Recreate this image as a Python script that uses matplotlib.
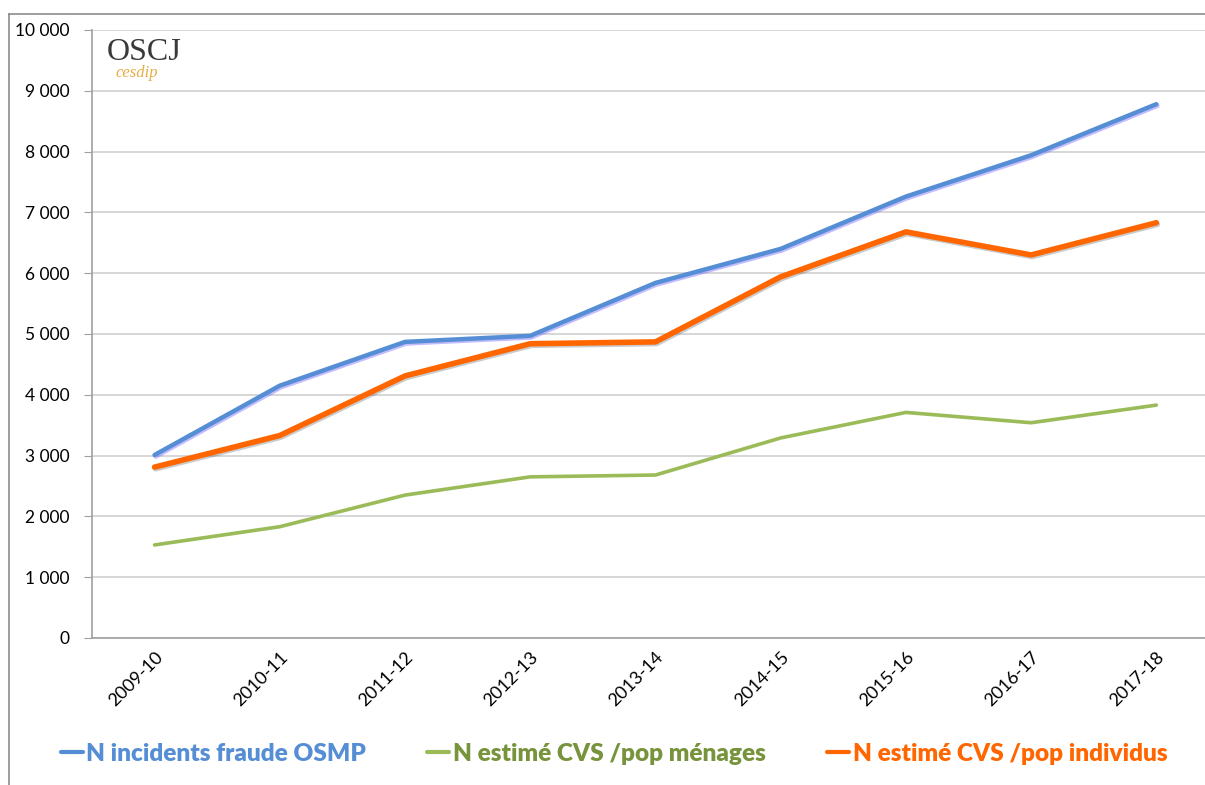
import matplotlib
matplotlib.use("Agg")
import matplotlib.pyplot as plt
import matplotlib.patheffects as pe
from matplotlib.lines import Line2D
from matplotlib.ticker import FuncFormatter

plt.rcParams['font.family'] = ['Lato', 'DejaVu Sans']

years = ["2009-10", "2010-11", "2011-12", "2012-13", "2013-14",
         "2014-15", "2015-16", "2016-17", "2017-18"]
osmp = [3010, 4150, 4870, 4970, 5840, 6400, 7260, 7940, 8780]
cvs_menages = [1530, 1830, 2350, 2650, 2680, 3290, 3710, 3540, 3830]
cvs_individus = [2810, 3330, 4310, 4840, 4870, 5940, 6680, 6300, 6830]

fig = plt.figure(figsize=(12.05, 7.85), dpi=100)
ax = fig.add_axes([0.0763, 0.1873, 0.9353, 0.7745])

x = range(len(years))
ax.plot(x, osmp, color='#558ED5', lw=3.2, solid_capstyle='round',
        label='N incidents fraude OSMP',
        path_effects=[pe.SimpleLineShadow(offset=(0.8, -1.2), shadow_color='#7b6bff', alpha=0.45),
                      pe.Normal()])
ax.plot(x, cvs_menages, color='#9BBB59', lw=2.6, solid_capstyle='round',
        label='N estimé CVS /pop ménages')
ax.plot(x, cvs_individus, color='#FF6600', lw=4, solid_capstyle='round',
        label='N estimé CVS /pop individus',
        path_effects=[pe.SimpleLineShadow(offset=(0.8, -1.2), shadow_color='#555555', alpha=0.3),
                      pe.Normal()])

ax.set_xlim(-0.5, len(years) - 0.5)
ax.set_ylim(0, 10000)
ax.set_yticks(range(0, 10001, 1000))
ax.yaxis.set_major_formatter(FuncFormatter(lambda v, p: f"{int(v):,}".replace(",", " ")))
ax.set_xticks(list(x))
ax.set_xticklabels(years, rotation=45, ha='right', rotation_mode='anchor')
ax.tick_params(axis='x', length=0, pad=8, labelsize=13)
ax.tick_params(axis='y', length=6, color='#a0a0a0', pad=10, labelsize=12.5)
ax.grid(axis='y', color='#d0d0d0', lw=1.2)
ax.set_axisbelow(True)
for s in ['top', 'right']:
    ax.spines[s].set_visible(False)
for s in ['left', 'bottom']:
    ax.spines[s].set_color('#a0a0a0')
    ax.spines[s].set_linewidth(1.2)

# logo
ax.text(0.013, 0.986, 'OSCJ', transform=ax.transAxes, fontsize=23,
        family='Liberation Serif', color='#3a3a3a', va='top', ha='left')
ax.text(0.021, 0.942, 'cesdip', transform=ax.transAxes, fontsize=12,
        family='Liberation Serif', style='italic', color='#e8ac45', va='top', ha='left')

# outer frame
fig.add_artist(Line2D([9 / 1205, 9 / 1205], [0, 1 - 14 / 785], color='#8c8c8c', lw=1.2))
fig.add_artist(Line2D([9 / 1205, 1], [1 - 14 / 785, 1 - 14 / 785], color='#8c8c8c', lw=1.2))

leg = fig.legend(loc='center', bbox_to_anchor=(0.5095, 0.04), ncol=3, frameon=False,
                 handlelength=0.9, handletextpad=0.15, columnspacing=2.5,
                 prop={'weight': 'heavy', 'size': 17.6})
for h in leg.legend_handles:
    h.set_path_effects([])
    h.set_linewidth(3)
for t, c in zip(leg.get_texts(), ['#558ED5', '#77933C', '#FF6600']):
    t.set_color(c)

fig.savefig('out.png', dpi=100)
